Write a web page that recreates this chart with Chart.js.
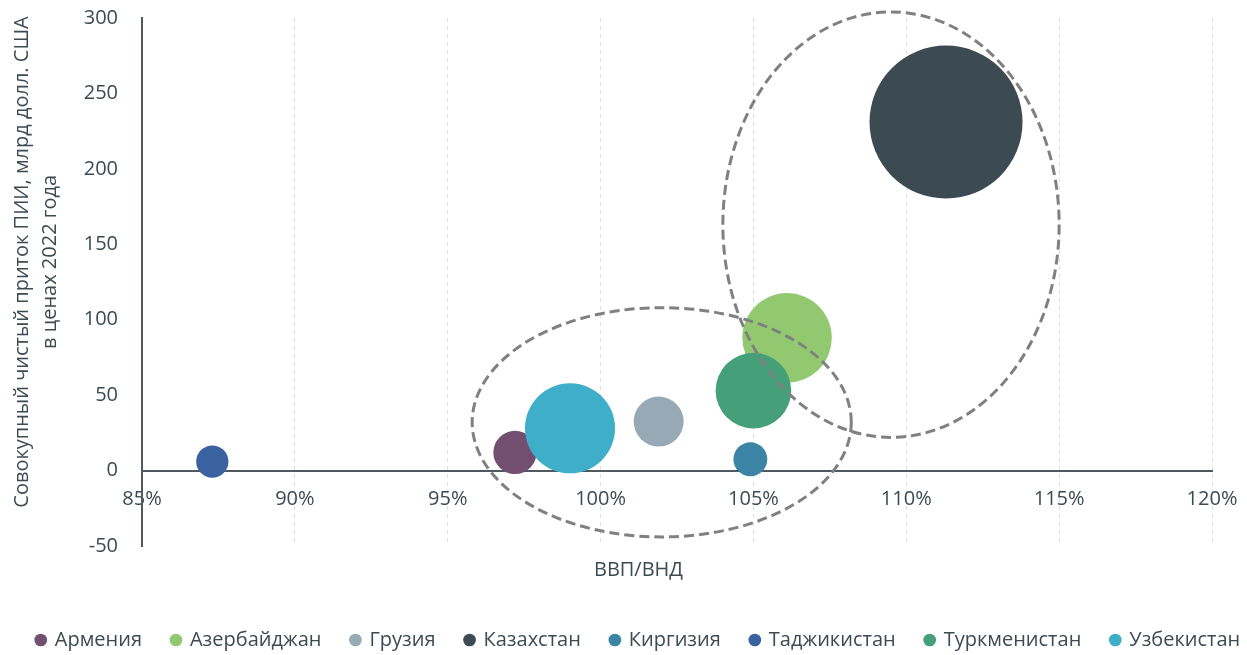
<!DOCTYPE html>
<html lang="ru">
<head>
<meta charset="utf-8">
<script src="https://cdn.jsdelivr.net/npm/chart.js@4"></script>
<style>
    html, body { margin: 0; padding: 0; background: #fff; }
    .chart { width: 1247px; height: 655px; }
</style>
</head>
<body>
<div class="chart"><canvas id="chart"></canvas></div>
<script>
const countries = ['Армения', 'Азербайджан', 'Грузия', 'Казахстан', 'Киргизия', 'Таджикистан', 'Туркменистан', 'Узбекистан']
const gdpToGni = [97.2, 106.1, 101.9, 111.3, 104.9, 87.3, 105.0, 99.0]
const fdiInflow = [12, 88, 32.5, 231, 7.5, 6, 53, 28]
const bubbleSize = [18, 77, 24, 225, 11, 10, 55, 78]
const colors = ['#724F71', '#92C970', '#97A9B4', '#3C4A52', '#3C84A6', '#3A62A0', '#45A07A', '#3FAEC8']

const xTicks = [85, 90, 95, 100, 105, 110, 115, 120]
const yTicks = [-50, 0, 50, 100, 150, 200, 250, 300]

// dashed ovals, in axis units
const ovalCenterX = [102.0, 109.5]
const ovalCenterY = [32, 163]
const ovalRadiusX = [6.2, 5.5]
const ovalRadiusY = [76, 141]

const textColor = '#3D4A52'
const axisColor = '#4F595F'
const bubbleScale = 5.1

const chartElement = document.querySelector('#chart')

const ovals = {
    id: 'ovals',
    afterDatasetsDraw(chart) {
        const {ctx, scales: {x, y}} = chart

        ctx.save()
        ctx.strokeStyle = '#808080'
        ctx.lineWidth = 3
        ctx.setLineDash([10, 5])

        for (let i = 0; i < ovalCenterX.length; i++) {
            const cx = x.getPixelForValue(ovalCenterX[i])
            const cy = y.getPixelForValue(ovalCenterY[i])
            const rx = x.getPixelForValue(ovalCenterX[i] + ovalRadiusX[i]) - cx
            const ry = cy - y.getPixelForValue(ovalCenterY[i] + ovalRadiusY[i])

            ctx.beginPath()
            ctx.ellipse(cx, cy, rx, ry, 0, 0, Math.PI * 2)
            ctx.stroke()
        }

        ctx.restore()
    }
}

// one row for the legend, centred under the whole figure
const legendRow = {
    id: 'legendRow',
    beforeInit(chart) {
        const legend = chart.legend
        const fit = legend.fit

        legend.fit = function () {
            const maxWidth = this.maxWidth

            this.maxWidth = maxWidth + 400
            fit.call(this)
            this.maxWidth = maxWidth
            this.width = maxWidth
            this.height = 109
        }
    },
    afterLayout(chart) {
        chart.legend.left = 30 - 300
        chart.legend.right = chart.width + 300
    }
}

// tick labels may hang outside the plot, they should not shrink it
const noLabelPadding = scale => {
    scale.paddingTop = 0
    scale.paddingBottom = 0
    scale.paddingLeft = 0
    scale.paddingRight = 0
}

const datasets = countries.map((country, i) => ({
    label: country,
    data: [{ x: gdpToGni[i], y: fdiInflow[i], r: bubbleScale * Math.sqrt(bubbleSize[i]) }],
    backgroundColor: colors[i],
    hoverBackgroundColor: colors[i],
    borderWidth: 0,
    hoverBorderWidth: 0,
    order: countries.length - i
}))

new Chart(chartElement, {
    type: 'bubble',
    data: { datasets },
    plugins: [ovals, legendRow],
    options: {
        responsive: true,
        maintainAspectRatio: false,
        animation: false,
        events: [],
        layout: {
            autoPadding: false,
            padding: { top: 18, right: 35, bottom: 0, left: 0 }
        },
        scales: {
            x: {
                type: 'linear',
                position: { y: 0 },
                min: xTicks[0],
                max: xTicks[xTicks.length - 1],
                afterBuildTicks: scale => { scale.ticks = xTicks.map(value => ({ value })) },
                afterFit: noLabelPadding,
                ticks: {
                    padding: 17,
                    color: textColor,
                    font: { family: 'Open Sans', size: 20 },
                    maxRotation: 0,
                    callback: value => value + '%'
                },
                grid: {
                    color: '#DADFE3',
                    lineWidth: 1,
                    drawTicks: false
                },
                border: { display: true, color: axisColor, width: 2, dash: [4, 4] }
            },
            y: {
                type: 'linear',
                min: yTicks[0],
                max: yTicks[yTicks.length - 1],
                afterBuildTicks: scale => { scale.ticks = yTicks.map(value => ({ value })) },
                afterFit: scale => {
                    noLabelPadding(scale)
                    scale.width = 142
                },
                ticks: {
                    padding: 24,
                    color: textColor,
                    font: { family: 'Open Sans', size: 20 }
                },
                grid: { display: false, drawTicks: false },
                border: { display: true, color: axisColor, width: 2 },
                title: {
                    display: true,
                    // leading en spaces lift the centred title a little, as in the original
                    text: ['\u2002\u2002\u2002\u2002Совокупный чистый приток ПИИ, млрд долл. США', '\u2002\u2002\u2002\u2002в ценах 2022 года'],
                    color: textColor,
                    font: { family: 'Open Sans', size: 20, lineHeight: 1.4 },
                    padding: { top: 8, bottom: 0 }
                }
            }
        },
        plugins: {
            tooltip: { enabled: false },
            legend: {
                position: 'bottom',
                labels: {
                    usePointStyle: true,
                    pointStyle: 'circle',
                    boxWidth: 8,
                    boxHeight: 9,
                    padding: 30,
                    color: textColor,
                    font: { family: 'Open Sans', size: 20 },
                    sort: (a, b) => a.datasetIndex - b.datasetIndex
                },
                title: {
                    display: true,
                    text: 'ВВП/ВНД',
                    color: textColor,
                    font: { family: 'Open Sans', size: 20 },
                    padding: { top: 14, bottom: 16 }
                }
            }
        }
    }
})
</script>
</body>
</html>
